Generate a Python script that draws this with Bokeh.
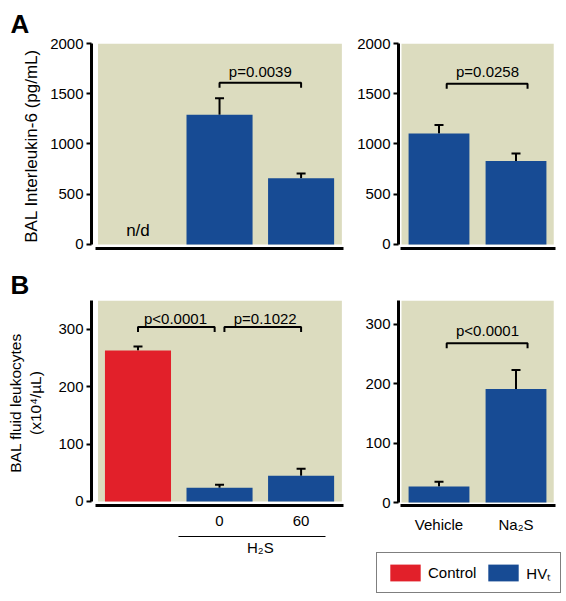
import numpy as np
from bokeh.plotting import figure
from bokeh.models import (Range1d, BoxAnnotation, ColumnDataSource, Whisker, TeeHead,
                          FixedTicker, LinearAxis, Legend, LegendItem, Title)
from bokeh.layouts import column, row
from bokeh.embed import file_html
from bokeh.resources import INLINE
from bokeh.core.properties import value

FONT = "Liberation Sans"
BEIGE = "#DCDCBF"
BLUE = "#174B94"
RED = "#E2202A"

# ---------------- data ----------------
# Panel A : BAL Interleukin-6 (pg/mL)
a_left_x = [0, 1, 2]                     # Control, H2S 0, H2S 60
a_left_mean = [np.nan, 1290, 660]        # control not detectable (n/d)
a_left_sem = [np.nan, 165, 47]
a_right_x = [0, 1]                       # Vehicle, Na2S
a_right_mean = [1105, 830]
a_right_sem = [85, 75]
a_yticks = [0, 500, 1000, 1500, 2000]

# Panel B : BAL fluid leukocytes (x10^4/uL)
b_left_x = [0, 1, 2]
b_left_mean = [263, 24, 45]
b_left_sem = [7, 5, 12]
b_left_colors = [RED, BLUE, BLUE]
b_right_x = [0, 1]
b_right_mean = [27, 191]
b_right_sem = [8, 32]
b_yticks = [0, 100, 200, 300]

# x labels
b_left_tick_pos = [1, 2]
b_left_tick_labels = ["0", "60"]
h2s_group_pos = [1, 2]
h2s_group_label = "H₂S"
b_right_tick_labels = ["Vehicle", "Na₂S"]
legend_labels = ["Control", "HVₜ"]

# significance brackets
a_left_br = dict(x0=[1], x1=[2], y=[1610], p=["p=0.0039"], tx=[1.5], ty=[1720])
a_right_br = dict(x0=[0.1], x1=[1.15], y=[1600], p=["p=0.0258"], tx=[0.63], ty=[1725])
b_left_br = dict(x0=[0, 1.06], x1=[0.94, 2.0], y=[304, 304], p=["p<0.0001", "p=0.1022"],
                 tx=[0.46, 1.56], ty=[319, 319])
b_right_br = dict(x0=[0.1], x1=[1.15], y=[268], p=["p<0.0001"], tx=[0.63], ty=[290])

LEFT_XR = (-0.57, 2.52)
RIGHT_XR = (-0.526, 1.513)


def base_fig(width, height, left, right, top, bottom, xr, yr):
    p = figure(width=width, height=height, x_range=Range1d(*xr), y_range=Range1d(*yr),
               output_backend="svg", toolbar_location=None,
               min_border_left=left, min_border_right=right,
               min_border_top=top, min_border_bottom=bottom)
    p.outline_line_color = None
    p.grid.visible = False
    p.background_fill_color = "white"
    p.border_fill_color = "white"
    return p


def style_yaxis(ax, ticks, bounds):
    ax.ticker = FixedTicker(ticks=ticks)
    ax.bounds = bounds
    ax.axis_line_width = 3
    ax.axis_line_color = "black"
    ax.major_tick_line_width = 2
    ax.major_tick_out = 5
    ax.major_tick_in = 0
    ax.minor_tick_line_color = None
    ax.major_label_standoff = 3
    ax.major_label_text_font = FONT
    ax.major_label_text_font_size = "15px"
    ax.major_label_text_color = "black"


def style_xaxis(ax, bounds, ticks=None, overrides=None, standoff=10, lw=3):
    ax.ticker = FixedTicker(ticks=ticks or [])
    if overrides:
        ax.major_label_overrides = overrides
    ax.bounds = bounds
    ax.axis_line_width = lw
    ax.axis_line_color = "black"
    ax.major_tick_out = 0
    ax.major_tick_in = 0
    ax.major_tick_line_color = None
    ax.minor_tick_line_color = None
    ax.major_label_standoff = standoff
    ax.major_label_text_font = FONT
    ax.major_label_text_font_size = "15px"
    ax.major_label_text_color = "black"


def bar_source(xs, means, sems, colors):
    m = ~np.isnan(np.array(means, dtype=float))
    x = np.array(xs)[m]
    top = np.array(means, dtype=float)[m]
    err = np.array(sems, dtype=float)[m]
    col = np.array(colors)[m] if isinstance(colors, list) else [colors] * len(x)
    return ColumnDataSource(dict(x=x, top=top, upper=top + err, color=list(col)))


def add_bars(p, xs, means, sems, width, colors):
    src = bar_source(xs, means, sems, colors)
    r = p.vbar(x="x", top="top", bottom=0, width=width, fill_color="color",
               line_color=None, source=src)
    w = Whisker(source=src, base="x", lower="top", upper="upper", dimension="height",
                line_width=2, line_color="black",
                upper_head=TeeHead(size=9, line_width=2, line_color="black"),
                lower_head=None)
    p.add_layout(w)
    return r


def add_brackets(p, br, drop):
    xs = [[a, a, b, b] for a, b in zip(br["x0"], br["x1"])]
    ys = [[y - drop, y, y, y - drop] for y in br["y"]]
    p.multi_line(xs=xs, ys=ys, line_width=2, line_color="black")
    p.text(x=br["tx"], y=br["ty"], text=br["p"], text_font=value(FONT),
           text_font_size="15px", text_align="center", text_baseline="middle",
           text_color="black")


def beige(p, xr, yr):
    p.add_layout(BoxAnnotation(left=xr[0], right=xr[1], bottom=yr[0], top=yr[1],
                               fill_color=BEIGE, fill_alpha=1, line_color=None,
                               level="underlay"))


def panel_letter(p, letter, standoff):
    t = Title(text=letter, align="left", offset=-81, standoff=standoff,
              text_font=FONT, text_font_size="26px", text_font_style="bold",
              text_color="black", vertical_align="bottom")
    p.title = t


def ylabel(ax, text, size, standoff):
    ax.axis_label = text
    ax.axis_label_text_font = FONT
    ax.axis_label_text_font_style = "normal"
    ax.axis_label_text_font_size = size
    ax.axis_label_text_color = "black"
    ax.axis_label_standoff = standoff


# ---------------- Panel A left ----------------
a1 = base_fig(350, 258, 91, 7, 43, 10, LEFT_XR, (-40, 2000))
panel_letter(a1, "A", 9)
beige(a1, (-0.49, 2.5), (0, 2000))
add_bars(a1, a_left_x, a_left_mean, a_left_sem, 0.81, BLUE)
add_brackets(a1, a_left_br, 50)
a1.text(x=[a_left_x[0]], y=[140], text=["n/d"], text_font=value(FONT),
        text_font_size="17px", text_align="center", text_baseline="middle")
style_yaxis(a1.yaxis[0], a_yticks, (0, 2000))
style_xaxis(a1.xaxis[0], (-0.52, 2.52))
ylabel(a1.yaxis[0], "BAL Interleukin-6 (pg/mL)", "17px", 6)

# ---------------- Panel A right ----------------
a2 = base_fig(208, 258, 48, 3, 43, 10, RIGHT_XR, (-40, 2000))
beige(a2, (-0.487, 1.49), (0, 2000))
add_bars(a2, a_right_x, a_right_mean, a_right_sem, 0.79, BLUE)
add_brackets(a2, a_right_br, 50)
style_yaxis(a2.yaxis[0], a_yticks, (0, 2000))
style_xaxis(a2.xaxis[0], (-0.50, 1.513))

# ---------------- Panel B left ----------------
b1 = base_fig(350, 342, 91, 7, 42, 95, LEFT_XR, (-7, 350))
panel_letter(b1, "B", 2)
beige(b1, (-0.49, 2.5), (0, 350))
add_bars(b1, b_left_x, b_left_mean, b_left_sem, 0.81, b_left_colors)
add_brackets(b1, b_left_br, 9)
style_yaxis(b1.yaxis[0], b_yticks, (0, 350))
ylabel(b1.yaxis[0], "BAL fluid leukocytes\n(x10⁴/µL)", "15.5px", 11)
style_xaxis(b1.xaxis[0], (-0.52, 2.52), b_left_tick_pos,
            dict(zip(b_left_tick_pos, b_left_tick_labels)), standoff=10)
g_center = float(np.mean(h2s_group_pos))
# invisible spacer axis between the tick labels and the H2S group line
spacer = LinearAxis(ticker=FixedTicker(ticks=[g_center]), axis_line_color=None,
                    major_tick_out=8, major_tick_in=0, major_tick_line_color=None,
                    minor_tick_line_color=None, major_label_standoff=0,
                    major_label_overrides={g_center: ""})
b1.add_layout(spacer, "below")
grp_axis = LinearAxis()
style_xaxis(grp_axis, (min(h2s_group_pos) - 0.5, max(h2s_group_pos) + 0.3), [g_center],
            {g_center: h2s_group_label}, standoff=2, lw=1.2)
b1.add_layout(grp_axis, "below")

# ---------------- Panel B right ----------------
b2 = base_fig(208, 290, 48, 3, 42, 43, RIGHT_XR, (-5, 340))
beige(b2, (-0.487, 1.49), (0, 340))
add_bars(b2, b_right_x, b_right_mean, b_right_sem, 0.79, BLUE)
add_brackets(b2, b_right_br, 8.5)
style_yaxis(b2.yaxis[0], b_yticks, (0, 340))
style_xaxis(b2.xaxis[0], (-0.50, 1.513), b_right_x,
            dict(zip(b_right_x, b_right_tick_labels)), standoff=10)

# ---------------- legend (own small plot, renderers hidden) ----------------
lg = figure(width=216, height=52, x_range=Range1d(0, 1), y_range=Range1d(0, 1),
            output_backend="svg", toolbar_location=None,
            x_axis_location=None, y_axis_location=None, min_border=0)
lg.frame_align = False
lg.outline_line_color = None
lg.grid.visible = False
ctrl_src = bar_source(b_left_x[:1], b_left_mean[:1], b_left_sem[:1], RED)
hv_src = bar_source(b_right_x, b_right_mean, b_right_sem, BLUE)
ctrl_r = lg.vbar(x="x", top="top", width=0.5, fill_color=RED, line_color=None,
                 source=ctrl_src, visible=False)
hv_r = lg.vbar(x="x", top="top", width=0.5, fill_color=BLUE, line_color=None,
               source=hv_src, visible=False)
legend = Legend(items=[LegendItem(label=legend_labels[0], renderers=[ctrl_r]),
                       LegendItem(label=legend_labels[1], renderers=[hv_r])],
                location=(26, 7), orientation="horizontal", margin=0, padding=9,
                glyph_width=38, glyph_height=21, label_standoff=4, spacing=8,
                label_text_font=FONT, label_text_font_size="15px",
                label_text_color="black",
                border_line_color="black", border_line_width=1.5,
                background_fill_color="white", background_fill_alpha=1)
lg.add_layout(legend, "center")

layout = column(row(a1, a2), row(b1, column(b2, lg)))
open("out.html", "w").write(file_html(layout, INLINE))
